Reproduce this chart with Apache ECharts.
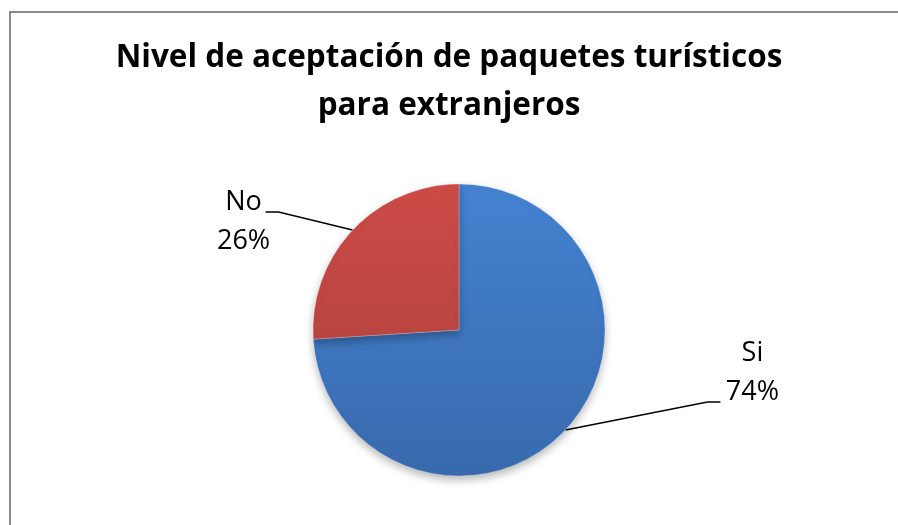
<!DOCTYPE html>
<html>
<head>
<meta charset="utf-8">
<style>
  html, body { margin: 0; padding: 0; background: #ffffff; }
  #chart { width: 898px; height: 525px; }
</style>
<script src="https://cdn.jsdelivr.net/npm/echarts@6/dist/echarts.min.js"></script>
</head>
<body>
<div id="chart"></div>
<script>
// Survey answers and their share of respondents (percent)
const categories = ['Si', 'No'];
const shares = [74, 26];

const titleText = 'Nivel de aceptación de paquetes turísticos\npara extranjeros';

// Slice fills: lighter at the top, darker toward the bottom
const fills = [
  ['#4482d0', '#386aad'],
  ['#cd4b47', '#a63f3c']
];

// Leader-line routing per label: elbow offset from the rim point,
// horizontal tail, and label-centre offset from the tail end
const leaderStyle = [
  { elbow: [142, -28], tail: 13, text: [32, -29] },
  { elbow: [-74, -18], tail: -13, text: [-22, 10] }
];

const cx = 459, cy = 330, radius = 146;

const chart = echarts.init(document.getElementById('chart'), null, { renderer: 'canvas' });

chart.setOption({
  backgroundColor: '#ffffff',
  animation: false,
  title: {
    text: titleText,
    left: 'center',
    top: 29,
    textStyle: {
      fontFamily: 'Open Sans',
      fontWeight: 'bold',
      fontSize: 31.5,
      lineHeight: 48,
      color: '#000000'
    }
  },
  graphic: [{
    type: 'rect',
    shape: { x: 10, y: 12, width: 900, height: 530 },
    style: { fill: 'none', stroke: '#8a8a8a', lineWidth: 2 },
    silent: true,
    z: -1
  }],
  series: [{
    type: 'pie',
    center: [cx, cy],
    radius: [0, radius],
    startAngle: 90,
    clockwise: true,
    data: categories.map((name, i) => ({
      name: name,
      value: shares[i],
      itemStyle: {
        color: {
          type: 'linear', global: true,
          x: 0, y: cy - radius, x2: 0, y2: cy + radius,
          colorStops: [
            { offset: 0, color: fills[i][0] },
            { offset: 1, color: fills[i][1] }
          ]
        }
      }
    })),
    itemStyle: {
      borderColor: 'rgba(255,255,255,0.25)',
      borderWidth: 1,
      shadowBlur: 8,
      shadowOffsetY: 4,
      shadowColor: 'rgba(0,0,0,0.28)'
    },
    label: {
      show: true,
      formatter: '{b}\n{c}%',
      fontFamily: 'Open Sans',
      fontSize: 27,
      lineHeight: 39,
      color: '#000000',
      align: 'center'
    },
    labelLine: {
      show: true,
      length: 20,
      length2: 10,
      lineStyle: { color: '#000000', width: 1.5 }
    },
    labelLayout: function (params) {
      const s = leaderStyle[params.dataIndex];
      const rim = params.labelLinePoints[0];
      const elbow = [rim[0] + s.elbow[0], rim[1] + s.elbow[1]];
      const end = [elbow[0] + s.tail, elbow[1]];
      return {
        x: end[0] + s.text[0],
        y: end[1] + s.text[1],
        align: 'center',
        verticalAlign: 'middle',
        labelLinePoints: [rim, elbow, end]
      };
    }
  }]
});
</script>
</body>
</html>
